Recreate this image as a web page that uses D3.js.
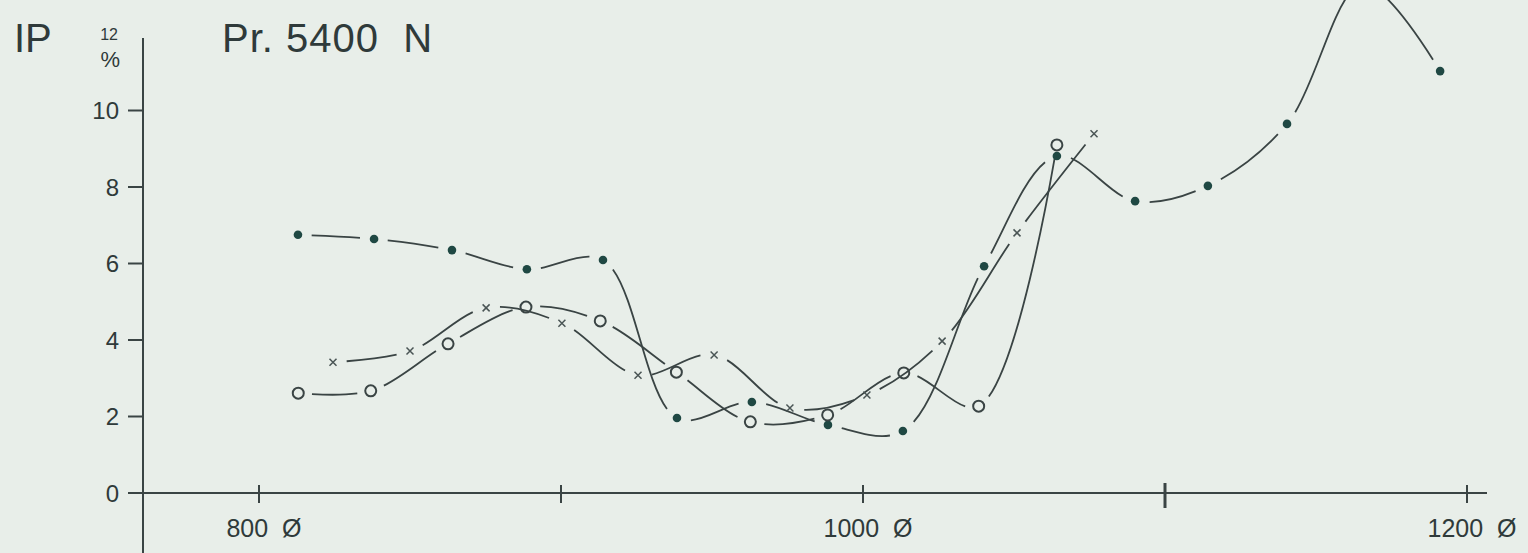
<!DOCTYPE html>
<html>
<head>
<meta charset="utf-8">
<script src="https://cdn.jsdelivr.net/npm/d3@7"></script>
<style>
  body { margin: 0; background: #e8eee9; }
  svg { display: block; }
  text { font-family: "Liberation Sans", Arial, sans-serif; fill: #2f3a3a; white-space: pre; }
</style>
</head>
<body>
<div id="chart"></div>
<script>
// diameter on x, IP % on y
var dotX    = [812.9, 838.1, 863.9, 888.7, 913.9, 938.4, 963.2, 988.4, 1013.2, 1040.1, 1064.2, 1090.1, 1114.2, 1140.4, 1165.5, 1191.1];
var dotY    = [6.75, 6.64, 6.35, 5.85, 6.09, 1.96, 2.38, 1.78, 1.62, 5.93, 8.81, 7.63, 8.03, 9.65, 13.3, 11.03];
var circleX = [813, 837, 862.6, 888.4, 913, 938.2, 962.7, 988.3, 1013.5, 1038.3, 1064.2];
var circleY = [2.61, 2.67, 3.90, 4.86, 4.50, 3.16, 1.86, 2.04, 3.14, 2.27, 9.10];
var crossX  = [824.5, 850, 875.2, 900.3, 925.5, 950.7, 975.8, 1001.3, 1026.2, 1051, 1076.5];
var crossY  = [3.42, 3.71, 4.84, 4.44, 3.08, 3.61, 2.22, 2.56, 3.97, 6.80, 9.39];

var yTicks = [0, 2, 4, 6, 8, 10];
var xTicks = [800, 900, 1000, 1100, 1200];
var xLabels = {800: "800  Ø", 1000: "1000  Ø", 1200: "1200  Ø"};

var width = 1528, height = 553;
var ink = "#3a4444";
var gap = 14;   // blank space left on the curve around each marker

var svg = d3.select("#chart")
  .append("svg")
    .attr("width", width)
    .attr("height", height);

var x = d3.scaleLinear()
  .domain([800, 1200])
  .range([259, 1467]);

var y = d3.scaleLinear()
  .domain([0, 12])
  .range([493, 34]);

// y axis: line runs down past zero to the bottom edge
svg.append("line")
  .attr("x1", 143).attr("x2", 143)
  .attr("y1", 38).attr("y2", height)
  .attr("stroke", ink).attr("stroke-width", 2);

svg.selectAll(".ytick")
  .data(yTicks)
  .enter().append("line")
    .attr("x1", 128).attr("x2", 143)
    .attr("y1", function(d) { return y(d); })
    .attr("y2", function(d) { return y(d); })
    .attr("stroke", ink).attr("stroke-width", 2);

svg.selectAll(".ylab")
  .data(yTicks)
  .enter().append("text")
    .attr("x", 119)
    .attr("y", function(d) { return y(d); })
    .attr("dy", "0.36em")
    .attr("text-anchor", "end")
    .attr("font-size", 24)
    .text(function(d) { return d; });

// "12" and % unit at the top of the axis
svg.append("text")
  .attr("x", 118).attr("y", y(12)).attr("dy", "0.36em")
  .attr("text-anchor", "end").attr("font-size", 16)
  .text("12");
svg.append("text")
  .attr("x", 120).attr("y", 67)
  .attr("text-anchor", "end").attr("font-size", 22)
  .text("%");

// x axis
svg.append("line")
  .attr("x1", 128).attr("x2", 1487)
  .attr("y1", y(0)).attr("y2", y(0))
  .attr("stroke", ink).attr("stroke-width", 2);

svg.selectAll(".xtick")
  .data(xTicks)
  .enter().append("line")
    .attr("x1", function(d) { return x(d); })
    .attr("x2", function(d) { return x(d); })
    .attr("y1", function(d) { return d == 1100 ? 483 : 485; })
    .attr("y2", function(d) { return d == 1100 ? 508 : 503; })
    .attr("stroke", ink)
    .attr("stroke-width", function(d) { return d == 1100 ? 3 : 2; });

svg.selectAll(".xlab")
  .data(xTicks.filter(function(d) { return xLabels[d]; }))
  .enter().append("text")
    .attr("x", function(d) { return x(d) + 5; })
    .attr("y", 537)
    .attr("text-anchor", "middle")
    .attr("font-size", 25)
    .text(function(d) { return xLabels[d]; });

// titles
svg.append("text")
  .attr("x", 14).attr("y", 52)
  .attr("font-size", 40)
  .text("IP");
svg.append("text")
  .attr("x", 222).attr("y", 52)
  .attr("font-size", 40)
  .attr("letter-spacing", 1)
  .text("Pr. 5400  N");

// series curves, one dash between each pair of markers
var series = [
  {name: "dot", xs: dotX, ys: dotY},
  {name: "circle", xs: circleX, ys: circleY},
  {name: "cross", xs: crossX, ys: crossY}
];

var line = d3.line()
  .x(function(d) { return x(d[0]); })
  .y(function(d) { return y(d[1]); })
  .curve(d3.curveCatmullRom.alpha(0.5));

series.forEach(function(s) {
  var pts = s.xs.map(function(v, i) { return [v, s.ys[i]]; });
  s.pts = pts;

  var path = svg.append("path")
    .datum(pts)
    .attr("d", line)
    .attr("fill", "none")
    .attr("stroke", ink)
    .attr("stroke-width", 1.8);

  // find where each marker sits along the path
  var node = path.node();
  var total = node.getTotalLength();
  var at = [];
  var start = 0;
  pts.forEach(function(p) {
    var px = x(p[0]), py = y(p[1]);
    var best = start, bestD = Infinity;
    for (var l = start; l <= total; l += 0.5) {
      var q = node.getPointAtLength(l);
      var dd = (q.x - px) * (q.x - px) + (q.y - py) * (q.y - py);
      if (dd < bestD) { bestD = dd; best = l; }
      if (dd > bestD + 400) break;
    }
    at.push(best);
    start = best;
  });

  var dash = [0, at[0] + gap];
  for (var i = 1; i < at.length; i++) {
    dash.push(Math.max(0, at[i] - at[i - 1] - 2 * gap), 2 * gap);
  }
  dash.push(0, total);
  path.attr("stroke-dasharray", dash.join(","));
});

// markers
svg.append("g")
  .selectAll("circle")
  .data(series[0].pts)
  .enter().append("circle")
    .attr("cx", function(d) { return x(d[0]); })
    .attr("cy", function(d) { return y(d[1]); })
    .attr("r", 4.3)
    .attr("fill", "#1f4843");

svg.append("g")
  .selectAll("circle")
  .data(series[1].pts)
  .enter().append("circle")
    .attr("cx", function(d) { return x(d[0]); })
    .attr("cy", function(d) { return y(d[1]); })
    .attr("r", 5.5)
    .attr("fill", "none")
    .attr("stroke", ink)
    .attr("stroke-width", 2);

svg.append("g")
  .selectAll("path")
  .data(series[2].pts)
  .enter().append("path")
    .attr("transform", function(d) { return "translate(" + x(d[0]) + "," + y(d[1]) + ")"; })
    .attr("d", "M-3.5,-3.5L3.5,3.5M-3.5,3.5L3.5,-3.5")
    .attr("stroke", "#4a5555")
    .attr("stroke-width", 1.5);
</script>
</body>
</html>
